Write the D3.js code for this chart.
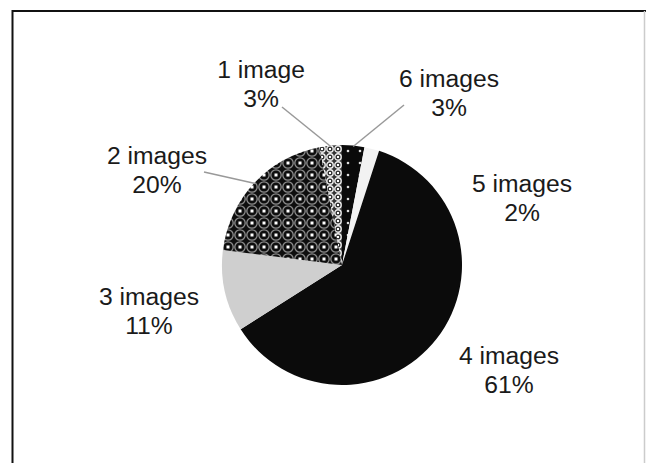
<!DOCTYPE html>
<html>
  <head>
    <meta charset="UTF-8" />
    <title>Images per case</title>
    <style>
      body,
      html {
        margin: 0;
        padding: 0;
        overflow: hidden;
        background: #fff;
      }
      .label {
        font-family: "Liberation Sans", Arial, sans-serif;
        font-size: 23.5px;
        fill: #1a1a1a;
      }
    </style>
  </head>
  <body>
    <svg id="chart"></svg>
    <script src="https://d3js.org/d3.v7.min.js"></script>
    <script>
      // slices in drawing order, clockwise from 12 o'clock
      const categories = ["6 images", "5 images", "4 images", "3 images", "2 images", "1 image"];
      const values = [3, 2, 61, 11, 20, 3];
      const percentLabels = ["3%", "2%", "61%", "11%", "20%", "3%"];

      const width = 646;
      const height = 463;
      const cx = 342;
      const cy = 265;
      const radius = 120;

      // label centre x and first baseline y (layout only)
      const labelPos = [
        [449, 86],
        [522, 191],
        [509, 363],
        [149, 304],
        [157, 163],
        [261, 77],
      ];
      // where the leader line starts near the label (null = no line)
      const leaderStart = [[404, 105], null, null, null, [204, 172], [282, 107]];

      const svg = d3.select("#chart").attr("width", width).attr("height", height);

      const defs = svg.append("defs");

      // 2 images: dark grid of rings with white dots
      const p2 = defs.append("pattern").attr("id", "p2").attr("patternUnits", "userSpaceOnUse")
        .attr("width", 12).attr("height", 12);
      p2.append("rect").attr("width", 12).attr("height", 12).attr("fill", "#0e0e0e");
      p2.append("circle").attr("cx", 6).attr("cy", 6).attr("r", 5.2)
        .attr("fill", "none").attr("stroke", "#8c8c8c").attr("stroke-width", 1.3);
      p2.append("rect").attr("x", 4.5).attr("y", 4.5).attr("width", 3).attr("height", 3).attr("fill", "#fff");

      // 1 image: lighter rings
      const p1 = defs.append("pattern").attr("id", "p1").attr("patternUnits", "userSpaceOnUse")
        .attr("width", 8).attr("height", 8);
      p1.append("rect").attr("width", 8).attr("height", 8).attr("fill", "#333");
      p1.append("circle").attr("cx", 4).attr("cy", 4).attr("r", 3.2)
        .attr("fill", "none").attr("stroke", "#eee").attr("stroke-width", 1.4);
      p1.append("rect").attr("x", 3).attr("y", 3).attr("width", 2).attr("height", 2).attr("fill", "#fff");

      // 6 images: black with sparse white dots
      const p6 = defs.append("pattern").attr("id", "p6").attr("patternUnits", "userSpaceOnUse")
        .attr("width", 12).attr("height", 12);
      p6.append("rect").attr("width", 12).attr("height", 12).attr("fill", "#0a0a0a");
      p6.append("circle").attr("cx", 6).attr("cy", 6).attr("r", 1.3).attr("fill", "#ddd");

      const fills = ["url(#p6)", "#f2f2f2", "#0b0b0b", "#cfcfcf", "url(#p2)", "url(#p1)"];

      // frame
      svg.append("line").attr("x1", 12.5).attr("x2", 12.5).attr("y1", 10).attr("y2", height)
        .attr("stroke", "#111").attr("stroke-width", 2);
      svg.append("line").attr("x1", 12).attr("x2", width).attr("y1", 11).attr("y2", 11)
        .attr("stroke", "#111").attr("stroke-width", 2);
      svg.append("line").attr("x1", 644.5).attr("x2", 644.5).attr("y1", 11).attr("y2", height)
        .attr("stroke", "#ccc").attr("stroke-width", 1.5);

      const pie = d3.pie().sort(null).value((d) => d)(values);
      const arc = d3.arc().innerRadius(0).outerRadius(radius);

      const g = svg.append("g").attr("transform", `translate(${cx},${cy})`);

      g.selectAll("path")
        .data(pie)
        .enter()
        .append("path")
        .attr("d", arc)
        .attr("fill", (d, i) => fills[i]);

      // leader lines
      pie.forEach((d, i) => {
        if (!leaderStart[i]) return;
        const a = (d.startAngle + d.endAngle) / 2;
        const ex = cx + (radius - 1) * Math.sin(a);
        const ey = cy - (radius - 1) * Math.cos(a);
        svg.append("line")
          .attr("x1", leaderStart[i][0]).attr("y1", leaderStart[i][1])
          .attr("x2", ex).attr("y2", ey)
          .attr("stroke", "#999").attr("stroke-width", 1.5);
      });

      // labels, stretched a little wider like the original
      const labels = svg.selectAll(".lbl")
        .data(categories)
        .enter()
        .append("g")
        .attr("class", "lbl")
        .attr("transform", (d, i) => `translate(${labelPos[i][0]},${labelPos[i][1] + 1}) scale(1.05,1)`);

      labels.append("text").attr("class", "label").attr("text-anchor", "middle")
        .attr("y", 0).text((d) => d);
      labels.append("text").attr("class", "label").attr("text-anchor", "middle")
        .attr("y", 29).text((d, i) => percentLabels[i]);
    </script>
  </body>
</html>
